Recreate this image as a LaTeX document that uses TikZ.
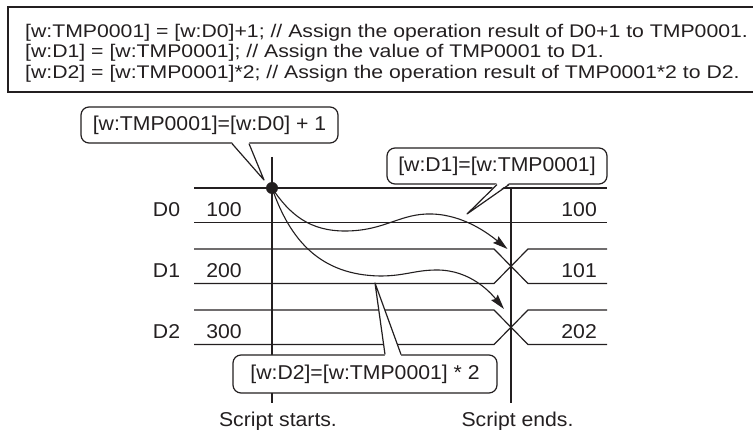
\documentclass[tikz,border=0pt]{standalone}
\usepackage{fontspec}
\usetikzlibrary{arrows.meta}
\newfontfamily\chartfont{Liberation Sans}[FakeStretch=1.06]
\newfontfamily\codefont{Liberation Sans}[FakeStretch=1.16]
\definecolor{chartink}{HTML}{231F20}

\begin{document}
\begin{tikzpicture}[x=1pt,y=-1pt,
  txt/.style={font=\chartfont\fontsize{20}{20.5}\selectfont,text=chartink,inner sep=0pt},
  codetxt/.style={font=\codefont\fontsize{18.3}{20.5}\selectfont,text=chartink,inner sep=0pt,anchor=base west},
  wire/.style={draw=chartink,line width=1.2pt},
  callout/.style={draw=chartink,line width=1.2pt,fill=white,rounded corners=8pt,inner sep=0pt,
    font=\chartfont\fontsize{20}{20.5}\selectfont,text=chartink},
  flow/.style={draw=chartink,line width=1.1pt,-{Stealth[length=15pt,width=8.5pt,inset=2pt]}}]
\useasboundingbox (0,0) rectangle (753,430);

% script text
\draw[chartink,line width=1.8pt] (8,7) rectangle (760,92);
\node[codetxt] (code1) at (25,37.5) {[w:TMP0001] = [w:D0]+1; // Assign the operation result of D0+1 to TMP0001.};
\node[codetxt] (code2) at (25,58) {[w:D1] = [w:TMP0001]; // Assign the value of TMP0001 to D1.};
\node[codetxt] (code3) at (25,78.5) {[w:D2] = [w:TMP0001]*2; // Assign the operation result of TMP0001*2 to D2.};

% device rows
\draw[wire] (194,188) -- (607,188);
\draw[wire] (194,222.5) -- (607,222.5);
\foreach \y in {249,310}{
  \draw[wire] (194,\y) -- (494,\y) -- (528,\y+34.5) -- (607,\y+34.5);
  \draw[wire] (194,\y+34.5) -- (494,\y+34.5) -- (528,\y) -- (607,\y);
}
\foreach \reg/\old/\new/\y in {D0/100/100/188,D1/200/101/249,D2/300/202/310}{
  \node[txt,anchor=base] (\reg name) at (166.5,\y+28.5) {\reg};
  \node[txt,anchor=base] (\reg old) at (224,\y+28.5) {\old};
  \node[txt,anchor=base east] (\reg new) at (597,\y+28.5) {\new};
}

% start / end of script
\coordinate (starttop) at (272,157);
\coordinate (startbot) at (272,403);
\coordinate (endtop) at (511,187);
\coordinate (endbot) at (511,403);
\draw[wire] (starttop) -- (startbot);
\draw[wire] (endtop) -- (endbot);
\node[txt,anchor=base] (startlbl) at (278,426.5) {Script starts.};
\node[txt,anchor=base] (endlbl) at (517.5,426.5) {Script ends.};

% value flow
\node[circle,fill=chartink,inner sep=0pt,minimum size=12pt] (dot) at (272,188) {};
\coordinate (d1in) at (507.5,249);
\coordinate (d2in) at (504,309);
\draw[flow] (dot.center) .. controls (290,215) and (310,231) .. (345,231)
  .. controls (385,231) and (400,213) .. (432,214)
  .. controls (465,215) and (490,235) .. (d1in);
\draw[flow] (dot.center) .. controls (290,240) and (320,275) .. (380,276)
  .. controls (405,276) and (415,270) .. (437,270)
  .. controls (470,270) and (490,292) .. (d2in);

% callouts
\node[callout,minimum width=257pt,minimum height=36pt] (calA) at (209.5,125) {[w:TMP0001]=[w:D0] + 1};
\coordinate (tipA) at (264,180);
\fill[white] ([xshift=22.5pt,yshift=1.5pt]calA.south) -- (tipA) -- ([xshift=39.5pt,yshift=1.5pt]calA.south) -- cycle;
\draw[wire,line join=round] ([xshift=22.5pt]calA.south) -- (tipA) -- ([xshift=39.5pt]calA.south);

\node[callout,minimum width=220pt,minimum height=36pt] (calB) at (497,166) {[w:D1]=[w:TMP0001]};
\coordinate (tipB) at (467,214);
\fill[white] ([yshift=1.5pt]calB.south) -- (tipB) -- ([xshift=12pt,yshift=1.5pt]calB.south) -- cycle;
\draw[wire,line join=round] (calB.south) -- (tipB) -- ([xshift=12pt]calB.south);

\node[callout,minimum width=264pt,minimum height=38pt] (calC) at (365,374) {[w:D2]=[w:TMP0001] * 2};
\coordinate (tipC) at (375,283);
\fill[white] ([xshift=20pt,yshift=-1.5pt]calC.north) -- (tipC) -- ([xshift=36pt,yshift=-1.5pt]calC.north) -- cycle;
\draw[wire,line join=round] ([xshift=20pt]calC.north) -- (tipC) -- ([xshift=36pt]calC.north);
\end{tikzpicture}
\end{document}
